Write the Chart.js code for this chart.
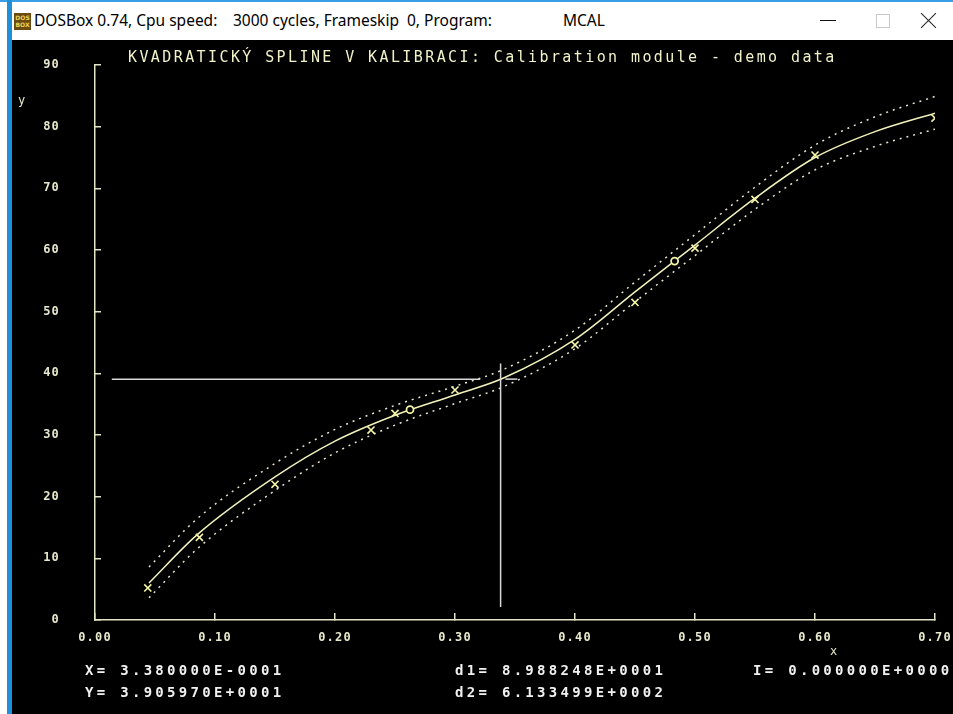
<!DOCTYPE html>
<html>
<head>
<meta charset="utf-8">
<script src="https://cdn.jsdelivr.net/npm/chart.js@4.4.1/dist/chart.umd.min.js"></script>
<style>
  body { margin: 0; width: 953px; height: 714px; overflow: hidden; background: #fff; position: relative; font-family: "Noto Sans", sans-serif; }
  #topline { position: absolute; left: 0; top: 0; width: 953px; height: 2px; background: #3a9ee4; }
  #leftline { position: absolute; left: 7px; top: 0; width: 5px; height: 714px; background: #1f8fd8; }
  #icon { position: absolute; left: 14px; top: 13px; width: 17px; height: 17px; background: #6b4c10; color: #f3d35a; font: bold 6px "DejaVu Sans", sans-serif; line-height: 7px; text-align: center; padding-top: 1px; box-sizing: border-box; }
  .cap { position: absolute; top: 9px; font-size: 15.5px; color: #000; white-space: pre; }
  #minbtn { position: absolute; left: 820px; top: 20px; width: 16px; height: 1px; background: #111; }
  #maxbtn { position: absolute; left: 876px; top: 14px; width: 12px; height: 12px; border: 1px solid #c8c8c8; }
  .xl { position: absolute; left: 918px; top: 20px; width: 21px; height: 1px; background: #222; }
  #screen { position: absolute; left: 12px; top: 40px; width: 941px; height: 674px; background: #000; overflow: hidden; }
  #screen canvas { position: absolute; left: 0; top: 0; }
  .dos { position: absolute; font-family: "DejaVu Sans Mono", monospace; white-space: pre; }
  #title { left: 116px; top: 10px; font-size: 15px; line-height: 15px; letter-spacing: 2.4px; color: #f2f2c8; }
  .read { font-size: 14px; line-height: 14px; letter-spacing: 3.3px; font-weight: bold; color: #f0f0f0; }
  .axl { font-size: 12px; line-height: 12px; color: #e8e8cc; }
</style>
</head>
<body>
<div id="topline"></div>
<div id="leftline"></div>
<div id="icon">DOS<br>BOX</div>
<div class="cap" style="left:34px">DOSBox 0.74, Cpu speed:</div>
<div class="cap" style="left:233px">3000 cycles, Frameskip  0, Program:</div>
<div class="cap" style="left:563px">MCAL</div>
<div id="minbtn"></div>
<div id="maxbtn"></div>
<div class="xl" style="transform: rotate(45deg)"></div>
<div class="xl" style="transform: rotate(-45deg)"></div>

<div id="screen">
  <canvas id="chart" width="941" height="674"></canvas>
  <div class="dos" id="title">KVADRATICKÝ SPLINE V KALIBRACI: Calibration module - demo data</div>
  <div class="dos axl" style="left:6px; top:54px">y</div>
  <div class="dos axl" style="left:818px; top:605px">x</div>
  <div class="dos read" style="left:73px; top:623px">X= 3.380000E-0001</div>
  <div class="dos read" style="left:73px; top:645px">Y= 3.905970E+0001</div>
  <div class="dos read" style="left:443px; top:623px">d1= 8.988248E+0001</div>
  <div class="dos read" style="left:443px; top:645px">d2= 6.133499E+0002</div>
  <div class="dos read" style="left:741px; top:623px">I= 0.000000E+0000</div>
</div>

<script>
// spline curve and its confidence band
var splineX = [0.045, 0.085, 0.15, 0.20, 0.25, 0.30, 0.34, 0.40, 0.45, 0.50, 0.55, 0.60, 0.65, 0.70];
var splineY = [6.0, 13.8, 23.2, 29.0, 33.2, 36.5, 39.2, 45.5, 53.2, 60.8, 68.4, 75.0, 79.2, 82.2];
var upperY  = [8.6, 16.4, 25.4, 30.9, 34.8, 37.9, 40.6, 47.0, 54.8, 62.5, 70.2, 77.0, 81.6, 84.9];
var lowerY  = [3.6, 11.5, 21.0, 27.1, 31.6, 35.1, 37.8, 44.0, 51.6, 59.1, 66.6, 73.0, 76.8, 79.6];

// calibration points (x markers) and spline knots (o markers)
var measX = [0.044, 0.087, 0.150, 0.230, 0.250, 0.300, 0.400, 0.450, 0.500, 0.550, 0.600, 0.700];
var measY = [5.2, 13.4, 22.0, 30.8, 33.5, 37.3, 44.6, 51.5, 60.3, 68.2, 75.4, 81.4];
var knotX = [0.2625, 0.483];
var knotY = [34.1, 58.2];

// cursor readout X= 0.338, Y= 39.0597
var cursorX = 0.338;
var cursorY = 39.0597;
var hLineX = [0.014, 0.321];
var vLineY = [2.1, 41.6];
var markX = [0.342, 0.352];

var xMin = 0, xMax = 0.7, xStep = 0.1;
var yMin = 0, yMax = 90, yStep = 10;

function pts(xs, ys) {
  var out = [];
  for (var i = 0; i < xs.length; i++) {
    out.push({ x: xs[i], y: ys[i] });
  }
  return out;
}

var yellow = '#f4f4a8';
var axisCol = '#e4e4c6';
var crossCol = '#d8d8d8';
var monoFont = { family: 'DejaVu Sans Mono', size: 12, weight: 'bold' };

// DOS look: wide letters on the tick labels
var dosSpacing = {
  id: 'dosSpacing',
  beforeDraw: function (chart) { chart.ctx.letterSpacing = '1.2px'; },
  afterDraw: function (chart) { chart.ctx.letterSpacing = '0px'; }
};

new Chart(document.getElementById('chart'), {
  type: 'scatter',
  data: {
    datasets: [
      {
        data: pts(measX, measY), pointStyle: 'crossRot', pointRadius: 5,
        borderColor: yellow, borderWidth: 1.6, showLine: false, order: 0
      },
      {
        data: pts(knotX, knotY), pointStyle: 'circle', pointRadius: 3.5,
        borderColor: yellow, backgroundColor: '#000', borderWidth: 1.8, showLine: false, order: 0
      },
      {
        data: pts(splineX, splineY), showLine: true, pointRadius: 0, borderColor: '#f2f2bc',
        borderWidth: 1.5, cubicInterpolationMode: 'monotone', order: 2
      },
      {
        data: pts(splineX, upperY), showLine: true, pointRadius: 0, borderColor: '#e6e6cf',
        borderWidth: 1.5, borderDash: [2, 5], cubicInterpolationMode: 'monotone', order: 3
      },
      {
        data: pts(splineX, lowerY), showLine: true, pointRadius: 0, borderColor: '#e6e6cf',
        borderWidth: 1.5, borderDash: [2, 5], cubicInterpolationMode: 'monotone', order: 3
      },
      {
        data: pts(hLineX, [cursorY, cursorY]), showLine: true, pointRadius: 0,
        borderColor: crossCol, borderWidth: 1.5, order: 1
      },
      {
        data: pts([cursorX, cursorX], vLineY), showLine: true, pointRadius: 0,
        borderColor: crossCol, borderWidth: 1.5, order: 1
      },
      {
        data: pts(markX, [cursorY, cursorY]), showLine: true, pointRadius: 0,
        borderColor: crossCol, borderWidth: 1.5, order: 1
      }
    ]
  },
  options: {
    responsive: false,
    animation: false,
    layout: { padding: { top: 25, right: 18, left: 0, bottom: 0 } },
    plugins: { legend: { display: false }, tooltip: { enabled: false } },
    scales: {
      x: {
        type: 'linear', min: xMin, max: xMax,
        afterFit: function (s) {
          s.height = 94;
          s.paddingLeft = 10;
          s.paddingRight = 10;
        },
        ticks: {
          stepSize: xStep, color: '#e8e8cc', font: monoFont, padding: 18, maxRotation: 0,
          callback: function (v) { return v.toFixed(2); }
        },
        grid: { drawOnChartArea: false, tickLength: -7, color: axisCol, lineWidth: 1.5 },
        border: { color: axisCol, width: 1.5 }
      },
      y: {
        type: 'linear', min: yMin, max: yMax,
        afterFit: function (s) {
          s.width = 83;
          s.paddingTop = 8;
          s.paddingBottom = 8;
        },
        ticks: { stepSize: yStep, color: '#e8e8cc', font: monoFont, padding: 41 },
        grid: { drawOnChartArea: false, tickLength: -6, color: axisCol, lineWidth: 1.5 },
        border: { color: axisCol, width: 1.5 }
      }
    }
  },
  plugins: [dosSpacing]
});
</script>
</body>
</html>
